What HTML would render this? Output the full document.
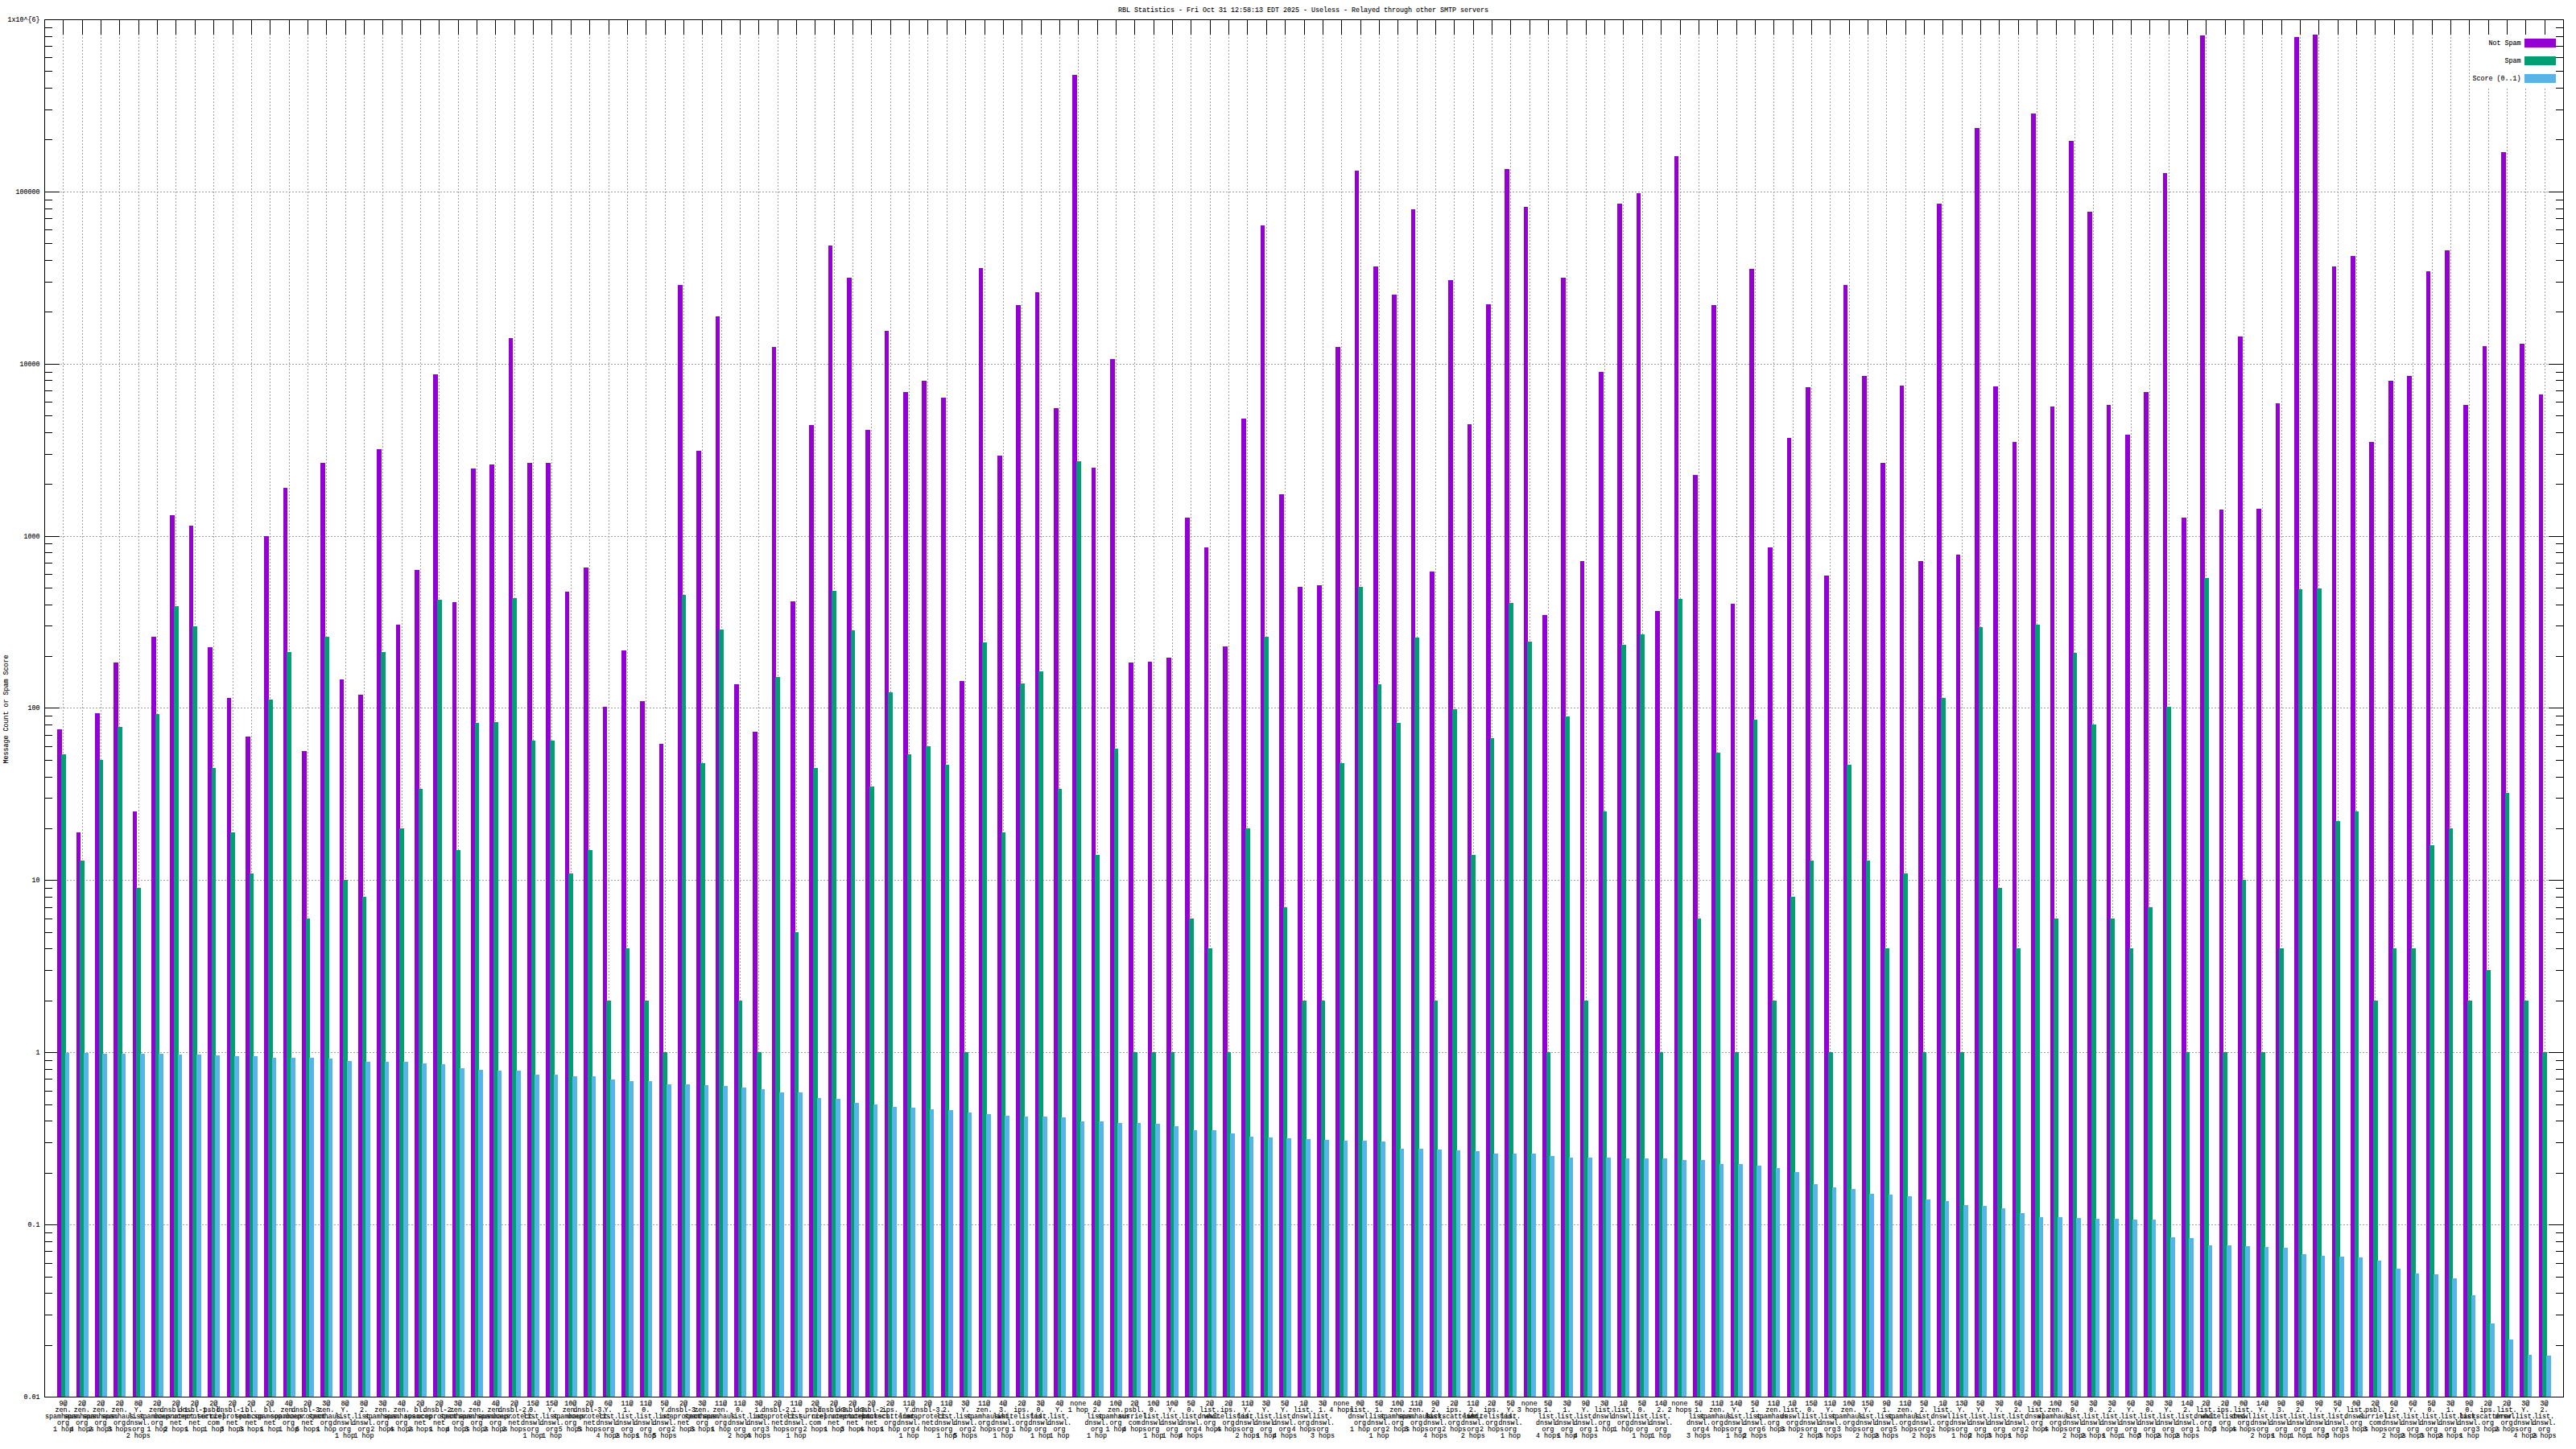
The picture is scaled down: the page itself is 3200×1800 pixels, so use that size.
<!DOCTYPE html>
<html><head><meta charset="utf-8"><title>RBL Statistics</title>
<style>html,body{margin:0;padding:0;background:#fff}svg{display:block}text{font-family:"Liberation Mono",monospace;font-size:8.33px;fill:#000;stroke:#000;stroke-width:0.1px}</style>
</head><body>
<svg width="3200" height="1800" viewBox="0 0 3200 1800">
<rect width="3200" height="1800" fill="#fff"/>
<g shape-rendering="crispEdges">
<g stroke="#a0a0a0" stroke-width="1" stroke-dasharray="2 2" fill="none">
<path d="M78.5 1736V25"/>
<path d="M102.5 1736V25"/>
<path d="M125.5 1736V25"/>
<path d="M148.5 1736V25"/>
<path d="M172.5 1736V25"/>
<path d="M195.5 1736V25"/>
<path d="M218.5 1736V25"/>
<path d="M242.5 1736V25"/>
<path d="M265.5 1736V25"/>
<path d="M289.5 1736V25"/>
<path d="M312.5 1736V25"/>
<path d="M335.5 1736V25"/>
<path d="M359.5 1736V25"/>
<path d="M382.5 1736V25"/>
<path d="M405.5 1736V25"/>
<path d="M429.5 1736V25"/>
<path d="M452.5 1736V25"/>
<path d="M475.5 1736V25"/>
<path d="M499.5 1736V25"/>
<path d="M522.5 1736V25"/>
<path d="M545.5 1736V25"/>
<path d="M569.5 1736V25"/>
<path d="M592.5 1736V25"/>
<path d="M615.5 1736V25"/>
<path d="M639.5 1736V25"/>
<path d="M662.5 1736V25"/>
<path d="M685.5 1736V25"/>
<path d="M709.5 1736V25"/>
<path d="M732.5 1736V25"/>
<path d="M756.5 1736V25"/>
<path d="M779.5 1736V25"/>
<path d="M802.5 1736V25"/>
<path d="M826.5 1736V25"/>
<path d="M849.5 1736V25"/>
<path d="M872.5 1736V25"/>
<path d="M896.5 1736V25"/>
<path d="M919.5 1736V25"/>
<path d="M942.5 1736V25"/>
<path d="M966.5 1736V25"/>
<path d="M989.5 1736V25"/>
<path d="M1012.5 1736V25"/>
<path d="M1036.5 1736V25"/>
<path d="M1059.5 1736V25"/>
<path d="M1082.5 1736V25"/>
<path d="M1106.5 1736V25"/>
<path d="M1129.5 1736V25"/>
<path d="M1152.5 1736V25"/>
<path d="M1176.5 1736V25"/>
<path d="M1199.5 1736V25"/>
<path d="M1223.5 1736V25"/>
<path d="M1246.5 1736V25"/>
<path d="M1269.5 1736V25"/>
<path d="M1293.5 1736V25"/>
<path d="M1316.5 1736V25"/>
<path d="M1339.5 1736V25"/>
<path d="M1363.5 1736V25"/>
<path d="M1386.5 1736V25"/>
<path d="M1409.5 1736V25"/>
<path d="M1433.5 1736V25"/>
<path d="M1456.5 1736V25"/>
<path d="M1479.5 1736V25"/>
<path d="M1503.5 1736V25"/>
<path d="M1526.5 1736V25"/>
<path d="M1549.5 1736V25"/>
<path d="M1573.5 1736V25"/>
<path d="M1596.5 1736V25"/>
<path d="M1620.5 1736V25"/>
<path d="M1643.5 1736V25"/>
<path d="M1666.5 1736V25"/>
<path d="M1690.5 1736V25"/>
<path d="M1713.5 1736V25"/>
<path d="M1736.5 1736V25"/>
<path d="M1760.5 1736V25"/>
<path d="M1783.5 1736V25"/>
<path d="M1806.5 1736V25"/>
<path d="M1830.5 1736V25"/>
<path d="M1853.5 1736V25"/>
<path d="M1876.5 1736V25"/>
<path d="M1900.5 1736V25"/>
<path d="M1923.5 1736V25"/>
<path d="M1946.5 1736V25"/>
<path d="M1970.5 1736V25"/>
<path d="M1993.5 1736V25"/>
<path d="M2016.5 1736V25"/>
<path d="M2040.5 1736V25"/>
<path d="M2063.5 1736V25"/>
<path d="M2087.5 1736V25"/>
<path d="M2110.5 1736V25"/>
<path d="M2133.5 1736V25"/>
<path d="M2157.5 1736V25"/>
<path d="M2180.5 1736V25"/>
<path d="M2203.5 1736V25"/>
<path d="M2227.5 1736V25"/>
<path d="M2250.5 1736V25"/>
<path d="M2273.5 1736V25"/>
<path d="M2297.5 1736V25"/>
<path d="M2320.5 1736V25"/>
<path d="M2343.5 1736V25"/>
<path d="M2367.5 1736V25"/>
<path d="M2390.5 1736V25"/>
<path d="M2413.5 1736V25"/>
<path d="M2437.5 1736V25"/>
<path d="M2460.5 1736V25"/>
<path d="M2483.5 1736V25"/>
<path d="M2507.5 1736V25"/>
<path d="M2530.5 1736V25"/>
<path d="M2554.5 1736V25"/>
<path d="M2577.5 1736V25"/>
<path d="M2600.5 1736V25"/>
<path d="M2624.5 1736V25"/>
<path d="M2647.5 1736V25"/>
<path d="M2670.5 1736V25"/>
<path d="M2694.5 1736V25"/>
<path d="M2717.5 1736V25"/>
<path d="M2740.5 1736V25"/>
<path d="M2764.5 1736V25"/>
<path d="M2787.5 1736V25"/>
<path d="M2810.5 1736V25"/>
<path d="M2834.5 1736V25"/>
<path d="M2857.5 1736V25"/>
<path d="M2880.5 1736V25"/>
<path d="M2904.5 1736V25"/>
<path d="M2927.5 1736V25"/>
<path d="M2950.5 1736V25"/>
<path d="M2974.5 1736V25"/>
<path d="M2997.5 1736V25"/>
<path d="M3021.5 1736V25"/>
<path d="M3044.5 1736V25"/>
<path d="M3067.5 1736V25"/>
<path d="M3091.5 1736V25"/>
<path d="M3114.5 1736V25"/>
<path d="M3137.5 1736V25"/>
<path d="M3161.5 1736V25"/>
<path d="M75 1521.5H3166"/>
<path d="M75 1307.5H3166"/>
<path d="M75 1093.5H3166"/>
<path d="M75 879.5H3166"/>
<path d="M75 666.5H3166"/>
<path d="M75 452.5H3166"/>
<path d="M75 238.5H3166"/>
</g>
<rect x="3069" y="43" width="115" height="67" fill="#fff"/>
<g stroke="#000" stroke-width="1" fill="none">
<path d="M78.5 25V43M78.5 1735V1717"/>
<path d="M102.5 25V43M102.5 1735V1717"/>
<path d="M125.5 25V43M125.5 1735V1717"/>
<path d="M148.5 25V43M148.5 1735V1717"/>
<path d="M172.5 25V43M172.5 1735V1717"/>
<path d="M195.5 25V43M195.5 1735V1717"/>
<path d="M218.5 25V43M218.5 1735V1717"/>
<path d="M242.5 25V43M242.5 1735V1717"/>
<path d="M265.5 25V43M265.5 1735V1717"/>
<path d="M289.5 25V43M289.5 1735V1717"/>
<path d="M312.5 25V43M312.5 1735V1717"/>
<path d="M335.5 25V43M335.5 1735V1717"/>
<path d="M359.5 25V43M359.5 1735V1717"/>
<path d="M382.5 25V43M382.5 1735V1717"/>
<path d="M405.5 25V43M405.5 1735V1717"/>
<path d="M429.5 25V43M429.5 1735V1717"/>
<path d="M452.5 25V43M452.5 1735V1717"/>
<path d="M475.5 25V43M475.5 1735V1717"/>
<path d="M499.5 25V43M499.5 1735V1717"/>
<path d="M522.5 25V43M522.5 1735V1717"/>
<path d="M545.5 25V43M545.5 1735V1717"/>
<path d="M569.5 25V43M569.5 1735V1717"/>
<path d="M592.5 25V43M592.5 1735V1717"/>
<path d="M615.5 25V43M615.5 1735V1717"/>
<path d="M639.5 25V43M639.5 1735V1717"/>
<path d="M662.5 25V43M662.5 1735V1717"/>
<path d="M685.5 25V43M685.5 1735V1717"/>
<path d="M709.5 25V43M709.5 1735V1717"/>
<path d="M732.5 25V43M732.5 1735V1717"/>
<path d="M756.5 25V43M756.5 1735V1717"/>
<path d="M779.5 25V43M779.5 1735V1717"/>
<path d="M802.5 25V43M802.5 1735V1717"/>
<path d="M826.5 25V43M826.5 1735V1717"/>
<path d="M849.5 25V43M849.5 1735V1717"/>
<path d="M872.5 25V43M872.5 1735V1717"/>
<path d="M896.5 25V43M896.5 1735V1717"/>
<path d="M919.5 25V43M919.5 1735V1717"/>
<path d="M942.5 25V43M942.5 1735V1717"/>
<path d="M966.5 25V43M966.5 1735V1717"/>
<path d="M989.5 25V43M989.5 1735V1717"/>
<path d="M1012.5 25V43M1012.5 1735V1717"/>
<path d="M1036.5 25V43M1036.5 1735V1717"/>
<path d="M1059.5 25V43M1059.5 1735V1717"/>
<path d="M1082.5 25V43M1082.5 1735V1717"/>
<path d="M1106.5 25V43M1106.5 1735V1717"/>
<path d="M1129.5 25V43M1129.5 1735V1717"/>
<path d="M1152.5 25V43M1152.5 1735V1717"/>
<path d="M1176.5 25V43M1176.5 1735V1717"/>
<path d="M1199.5 25V43M1199.5 1735V1717"/>
<path d="M1223.5 25V43M1223.5 1735V1717"/>
<path d="M1246.5 25V43M1246.5 1735V1717"/>
<path d="M1269.5 25V43M1269.5 1735V1717"/>
<path d="M1293.5 25V43M1293.5 1735V1717"/>
<path d="M1316.5 25V43M1316.5 1735V1717"/>
<path d="M1339.5 25V43M1339.5 1735V1717"/>
<path d="M1363.5 25V43M1363.5 1735V1717"/>
<path d="M1386.5 25V43M1386.5 1735V1717"/>
<path d="M1409.5 25V43M1409.5 1735V1717"/>
<path d="M1433.5 25V43M1433.5 1735V1717"/>
<path d="M1456.5 25V43M1456.5 1735V1717"/>
<path d="M1479.5 25V43M1479.5 1735V1717"/>
<path d="M1503.5 25V43M1503.5 1735V1717"/>
<path d="M1526.5 25V43M1526.5 1735V1717"/>
<path d="M1549.5 25V43M1549.5 1735V1717"/>
<path d="M1573.5 25V43M1573.5 1735V1717"/>
<path d="M1596.5 25V43M1596.5 1735V1717"/>
<path d="M1620.5 25V43M1620.5 1735V1717"/>
<path d="M1643.5 25V43M1643.5 1735V1717"/>
<path d="M1666.5 25V43M1666.5 1735V1717"/>
<path d="M1690.5 25V43M1690.5 1735V1717"/>
<path d="M1713.5 25V43M1713.5 1735V1717"/>
<path d="M1736.5 25V43M1736.5 1735V1717"/>
<path d="M1760.5 25V43M1760.5 1735V1717"/>
<path d="M1783.5 25V43M1783.5 1735V1717"/>
<path d="M1806.5 25V43M1806.5 1735V1717"/>
<path d="M1830.5 25V43M1830.5 1735V1717"/>
<path d="M1853.5 25V43M1853.5 1735V1717"/>
<path d="M1876.5 25V43M1876.5 1735V1717"/>
<path d="M1900.5 25V43M1900.5 1735V1717"/>
<path d="M1923.5 25V43M1923.5 1735V1717"/>
<path d="M1946.5 25V43M1946.5 1735V1717"/>
<path d="M1970.5 25V43M1970.5 1735V1717"/>
<path d="M1993.5 25V43M1993.5 1735V1717"/>
<path d="M2016.5 25V43M2016.5 1735V1717"/>
<path d="M2040.5 25V43M2040.5 1735V1717"/>
<path d="M2063.5 25V43M2063.5 1735V1717"/>
<path d="M2087.5 25V43M2087.5 1735V1717"/>
<path d="M2110.5 25V43M2110.5 1735V1717"/>
<path d="M2133.5 25V43M2133.5 1735V1717"/>
<path d="M2157.5 25V43M2157.5 1735V1717"/>
<path d="M2180.5 25V43M2180.5 1735V1717"/>
<path d="M2203.5 25V43M2203.5 1735V1717"/>
<path d="M2227.5 25V43M2227.5 1735V1717"/>
<path d="M2250.5 25V43M2250.5 1735V1717"/>
<path d="M2273.5 25V43M2273.5 1735V1717"/>
<path d="M2297.5 25V43M2297.5 1735V1717"/>
<path d="M2320.5 25V43M2320.5 1735V1717"/>
<path d="M2343.5 25V43M2343.5 1735V1717"/>
<path d="M2367.5 25V43M2367.5 1735V1717"/>
<path d="M2390.5 25V43M2390.5 1735V1717"/>
<path d="M2413.5 25V43M2413.5 1735V1717"/>
<path d="M2437.5 25V43M2437.5 1735V1717"/>
<path d="M2460.5 25V43M2460.5 1735V1717"/>
<path d="M2483.5 25V43M2483.5 1735V1717"/>
<path d="M2507.5 25V43M2507.5 1735V1717"/>
<path d="M2530.5 25V43M2530.5 1735V1717"/>
<path d="M2554.5 25V43M2554.5 1735V1717"/>
<path d="M2577.5 25V43M2577.5 1735V1717"/>
<path d="M2600.5 25V43M2600.5 1735V1717"/>
<path d="M2624.5 25V43M2624.5 1735V1717"/>
<path d="M2647.5 25V43M2647.5 1735V1717"/>
<path d="M2670.5 25V43M2670.5 1735V1717"/>
<path d="M2694.5 25V43M2694.5 1735V1717"/>
<path d="M2717.5 25V43M2717.5 1735V1717"/>
<path d="M2740.5 25V43M2740.5 1735V1717"/>
<path d="M2764.5 25V43M2764.5 1735V1717"/>
<path d="M2787.5 25V43M2787.5 1735V1717"/>
<path d="M2810.5 25V43M2810.5 1735V1717"/>
<path d="M2834.5 25V43M2834.5 1735V1717"/>
<path d="M2857.5 25V43M2857.5 1735V1717"/>
<path d="M2880.5 25V43M2880.5 1735V1717"/>
<path d="M2904.5 25V43M2904.5 1735V1717"/>
<path d="M2927.5 25V43M2927.5 1735V1717"/>
<path d="M2950.5 25V43M2950.5 1735V1717"/>
<path d="M2974.5 25V43M2974.5 1735V1717"/>
<path d="M2997.5 25V43M2997.5 1735V1717"/>
<path d="M3021.5 25V43M3021.5 1735V1717"/>
<path d="M3044.5 25V43M3044.5 1735V1717"/>
<path d="M3067.5 25V43M3067.5 1735V1717"/>
<path d="M3091.5 25V43M3091.5 1735V1717"/>
<path d="M3114.5 25V43M3114.5 1735V1717"/>
<path d="M3137.5 25V43M3137.5 1735V1717"/>
<path d="M3161.5 25V43M3161.5 1735V1717"/>
<path d="M56 1671.5H65M3184 1671.5H3175"/>
<path d="M56 1633.5H65M3184 1633.5H3175"/>
<path d="M56 1606.5H65M3184 1606.5H3175"/>
<path d="M56 1586.5H65M3184 1586.5H3175"/>
<path d="M56 1569.5H65M3184 1569.5H3175"/>
<path d="M56 1554.5H65M3184 1554.5H3175"/>
<path d="M56 1542.5H65M3184 1542.5H3175"/>
<path d="M56 1531.5H65M3184 1531.5H3175"/>
<path d="M56 1521.5H74M3184 1521.5H3166"/>
<path d="M56 1457.5H65M3184 1457.5H3175"/>
<path d="M56 1419.5H65M3184 1419.5H3175"/>
<path d="M56 1392.5H65M3184 1392.5H3175"/>
<path d="M56 1372.5H65M3184 1372.5H3175"/>
<path d="M56 1355.5H65M3184 1355.5H3175"/>
<path d="M56 1340.5H65M3184 1340.5H3175"/>
<path d="M56 1328.5H65M3184 1328.5H3175"/>
<path d="M56 1317.5H65M3184 1317.5H3175"/>
<path d="M56 1307.5H74M3184 1307.5H3166"/>
<path d="M56 1243.5H65M3184 1243.5H3175"/>
<path d="M56 1205.5H65M3184 1205.5H3175"/>
<path d="M56 1178.5H65M3184 1178.5H3175"/>
<path d="M56 1158.5H65M3184 1158.5H3175"/>
<path d="M56 1141.5H65M3184 1141.5H3175"/>
<path d="M56 1127.5H65M3184 1127.5H3175"/>
<path d="M56 1114.5H65M3184 1114.5H3175"/>
<path d="M56 1103.5H65M3184 1103.5H3175"/>
<path d="M56 1093.5H74M3184 1093.5H3166"/>
<path d="M56 1029.5H65M3184 1029.5H3175"/>
<path d="M56 991.5H65M3184 991.5H3175"/>
<path d="M56 965.5H65M3184 965.5H3175"/>
<path d="M56 944.5H65M3184 944.5H3175"/>
<path d="M56 927.5H65M3184 927.5H3175"/>
<path d="M56 913.5H65M3184 913.5H3175"/>
<path d="M56 900.5H65M3184 900.5H3175"/>
<path d="M56 889.5H65M3184 889.5H3175"/>
<path d="M56 879.5H74M3184 879.5H3166"/>
<path d="M56 815.5H65M3184 815.5H3175"/>
<path d="M56 777.5H65M3184 777.5H3175"/>
<path d="M56 751.5H65M3184 751.5H3175"/>
<path d="M56 730.5H65M3184 730.5H3175"/>
<path d="M56 713.5H65M3184 713.5H3175"/>
<path d="M56 699.5H65M3184 699.5H3175"/>
<path d="M56 686.5H65M3184 686.5H3175"/>
<path d="M56 675.5H65M3184 675.5H3175"/>
<path d="M56 666.5H74M3184 666.5H3166"/>
<path d="M56 601.5H65M3184 601.5H3175"/>
<path d="M56 564.5H65M3184 564.5H3175"/>
<path d="M56 537.5H65M3184 537.5H3175"/>
<path d="M56 516.5H65M3184 516.5H3175"/>
<path d="M56 499.5H65M3184 499.5H3175"/>
<path d="M56 485.5H65M3184 485.5H3175"/>
<path d="M56 472.5H65M3184 472.5H3175"/>
<path d="M56 462.5H65M3184 462.5H3175"/>
<path d="M56 452.5H74M3184 452.5H3166"/>
<path d="M56 387.5H65M3184 387.5H3175"/>
<path d="M56 350.5H65M3184 350.5H3175"/>
<path d="M56 323.5H65M3184 323.5H3175"/>
<path d="M56 302.5H65M3184 302.5H3175"/>
<path d="M56 285.5H65M3184 285.5H3175"/>
<path d="M56 271.5H65M3184 271.5H3175"/>
<path d="M56 259.5H65M3184 259.5H3175"/>
<path d="M56 248.5H65M3184 248.5H3175"/>
<path d="M56 238.5H74M3184 238.5H3166"/>
<path d="M56 173.5H65M3184 173.5H3175"/>
<path d="M56 136.5H65M3184 136.5H3175"/>
<path d="M56 109.5H65M3184 109.5H3175"/>
<path d="M56 88.5H65M3184 88.5H3175"/>
<path d="M56 71.5H65M3184 71.5H3175"/>
<path d="M56 57.5H65M3184 57.5H3175"/>
<path d="M56 45.5H65M3184 45.5H3175"/>
<path d="M56 34.5H65M3184 34.5H3175"/>
</g>
<path fill="#9400d3" d="M71 906h6V1735h-6zM95 1034h5V1735h-5zM118 886h6V1735h-6zM141 823h6V1735h-6zM165 1008h5V1735h-5zM188 791h6V1735h-6zM211 640h6V1735h-6zM235 653h5V1735h-5zM258 804h6V1735h-6zM282 867h5V1735h-5zM305 915h6V1735h-6zM328 666h6V1735h-6zM352 606h5V1735h-5zM375 933h6V1735h-6zM398 575h6V1735h-6zM422 844h5V1735h-5zM445 863h6V1735h-6zM468 558h6V1735h-6zM492 776h5V1735h-5zM515 708h6V1735h-6zM538 465h6V1735h-6zM562 748h5V1735h-5zM585 582h6V1735h-6zM608 577h6V1735h-6zM632 420h5V1735h-5zM655 575h6V1735h-6zM678 575h6V1735h-6zM702 735h5V1735h-5zM725 705h6V1735h-6zM749 878h5V1735h-5zM772 808h6V1735h-6zM795 871h6V1735h-6zM819 924h5V1735h-5zM842 354h6V1735h-6zM865 560h6V1735h-6zM889 393h5V1735h-5zM912 850h6V1735h-6zM935 909h6V1735h-6zM959 431h5V1735h-5zM982 747h6V1735h-6zM1005 528h6V1735h-6zM1029 305h5V1735h-5zM1052 345h6V1735h-6zM1075 534h6V1735h-6zM1099 411h5V1735h-5zM1122 487h6V1735h-6zM1145 473h6V1735h-6zM1169 494h6V1735h-6zM1192 846h6V1735h-6zM1216 333h5V1735h-5zM1239 566h6V1735h-6zM1262 379h6V1735h-6zM1286 363h5V1735h-5zM1309 507h6V1735h-6zM1332 93h6V1735h-6zM1356 581h5V1735h-5zM1379 446h6V1735h-6zM1402 823h6V1735h-6zM1426 822h5V1735h-5zM1449 817h6V1735h-6zM1472 643h6V1735h-6zM1496 680h5V1735h-5zM1519 803h6V1735h-6zM1542 520h6V1735h-6zM1566 280h5V1735h-5zM1589 614h6V1735h-6zM1612 729h6V1735h-6zM1636 727h6V1735h-6zM1659 431h6V1735h-6zM1683 212h5V1735h-5zM1706 331h6V1735h-6zM1729 366h6V1735h-6zM1753 260h5V1735h-5zM1776 710h6V1735h-6zM1799 348h6V1735h-6zM1823 527h5V1735h-5zM1846 378h6V1735h-6zM1869 210h6V1735h-6zM1893 257h5V1735h-5zM1916 764h6V1735h-6zM1939 345h6V1735h-6zM1963 697h5V1735h-5zM1986 462h6V1735h-6zM2009 253h6V1735h-6zM2033 240h5V1735h-5zM2056 759h6V1735h-6zM2080 194h5V1735h-5zM2103 590h6V1735h-6zM2126 379h6V1735h-6zM2150 750h5V1735h-5zM2173 334h6V1735h-6zM2196 680h6V1735h-6zM2220 544h5V1735h-5zM2243 481h6V1735h-6zM2266 715h6V1735h-6zM2290 354h5V1735h-5zM2313 467h6V1735h-6zM2336 575h6V1735h-6zM2360 479h5V1735h-5zM2383 697h6V1735h-6zM2406 253h6V1735h-6zM2430 689h5V1735h-5zM2453 159h6V1735h-6zM2476 480h6V1735h-6zM2500 549h5V1735h-5zM2523 141h6V1735h-6zM2547 505h5V1735h-5zM2570 175h6V1735h-6zM2593 263h6V1735h-6zM2617 503h5V1735h-5zM2640 540h6V1735h-6zM2663 487h6V1735h-6zM2687 215h5V1735h-5zM2710 643h6V1735h-6zM2733 44h6V1735h-6zM2757 633h5V1735h-5zM2780 418h6V1735h-6zM2803 632h6V1735h-6zM2827 501h5V1735h-5zM2850 46h6V1735h-6zM2873 43h6V1735h-6zM2897 331h5V1735h-5zM2920 318h6V1735h-6zM2943 549h6V1735h-6zM2967 473h6V1735h-6zM2990 467h6V1735h-6zM3014 337h5V1735h-5zM3037 311h6V1735h-6zM3060 503h6V1735h-6zM3084 430h5V1735h-5zM3107 189h6V1735h-6zM3130 427h6V1735h-6zM3154 490h5V1735h-5z"/>
<path fill="#009e73" d="M76 937h6V1735h-6zM99 1069h6V1735h-6zM123 944h5V1735h-5zM146 903h6V1735h-6zM169 1103h6V1735h-6zM193 887h5V1735h-5zM216 753h6V1735h-6zM239 778h6V1735h-6zM263 954h5V1735h-5zM286 1034h6V1735h-6zM310 1085h5V1735h-5zM333 869h6V1735h-6zM356 810h6V1735h-6zM380 1141h5V1735h-5zM403 791h6V1735h-6zM426 1093h6V1735h-6zM450 1114h5V1735h-5zM473 810h6V1735h-6zM496 1029h6V1735h-6zM520 980h5V1735h-5zM543 745h6V1735h-6zM566 1056h6V1735h-6zM590 898h5V1735h-5zM613 897h6V1735h-6zM636 743h6V1735h-6zM660 920h5V1735h-5zM683 920h6V1735h-6zM706 1085h6V1735h-6zM730 1056h6V1735h-6zM753 1243h6V1735h-6zM777 1178h5V1735h-5zM800 1243h6V1735h-6zM823 1307h6V1735h-6zM847 739h5V1735h-5zM870 948h6V1735h-6zM893 782h6V1735h-6zM917 1243h5V1735h-5zM940 1307h6V1735h-6zM963 841h6V1735h-6zM987 1158h5V1735h-5zM1010 954h6V1735h-6zM1033 734h6V1735h-6zM1057 783h5V1735h-5zM1080 977h6V1735h-6zM1103 860h6V1735h-6zM1127 937h5V1735h-5zM1150 927h6V1735h-6zM1174 950h5V1735h-5zM1197 1307h6V1735h-6zM1220 798h6V1735h-6zM1244 1034h5V1735h-5zM1267 849h6V1735h-6zM1290 834h6V1735h-6zM1314 980h5V1735h-5zM1337 573h6V1735h-6zM1360 1062h6V1735h-6zM1384 930h5V1735h-5zM1407 1307h6V1735h-6zM1430 1307h6V1735h-6zM1454 1307h5V1735h-5zM1477 1141h6V1735h-6zM1500 1178h6V1735h-6zM1524 1307h5V1735h-5zM1547 1029h6V1735h-6zM1570 791h6V1735h-6zM1594 1127h5V1735h-5zM1617 1243h6V1735h-6zM1641 1243h5V1735h-5zM1664 948h6V1735h-6zM1687 729h6V1735h-6zM1711 850h5V1735h-5zM1734 898h6V1735h-6zM1757 792h6V1735h-6zM1781 1243h5V1735h-5zM1804 881h6V1735h-6zM1827 1062h6V1735h-6zM1851 917h5V1735h-5zM1874 749h6V1735h-6zM1897 797h6V1735h-6zM1921 1307h5V1735h-5zM1944 890h6V1735h-6zM1967 1243h6V1735h-6zM1991 1008h5V1735h-5zM2014 801h6V1735h-6zM2037 788h6V1735h-6zM2061 1307h5V1735h-5zM2084 744h6V1735h-6zM2108 1141h5V1735h-5zM2131 935h6V1735h-6zM2154 1307h6V1735h-6zM2178 894h5V1735h-5zM2201 1243h6V1735h-6zM2224 1114h6V1735h-6zM2248 1069h5V1735h-5zM2271 1307h6V1735h-6zM2294 950h6V1735h-6zM2318 1069h5V1735h-5zM2341 1178h6V1735h-6zM2364 1085h6V1735h-6zM2388 1307h5V1735h-5zM2411 867h6V1735h-6zM2434 1307h6V1735h-6zM2458 779h5V1735h-5zM2481 1103h6V1735h-6zM2504 1178h6V1735h-6zM2528 776h6V1735h-6zM2551 1141h6V1735h-6zM2575 811h5V1735h-5zM2598 900h6V1735h-6zM2621 1141h6V1735h-6zM2645 1178h5V1735h-5zM2668 1127h6V1735h-6zM2691 878h6V1735h-6zM2715 1307h5V1735h-5zM2738 718h6V1735h-6zM2761 1307h6V1735h-6zM2785 1093h5V1735h-5zM2808 1307h6V1735h-6zM2831 1178h6V1735h-6zM2855 732h5V1735h-5zM2878 731h6V1735h-6zM2901 1020h6V1735h-6zM2925 1008h5V1735h-5zM2948 1243h6V1735h-6zM2972 1178h5V1735h-5zM2995 1178h6V1735h-6zM3018 1050h6V1735h-6zM3042 1029h5V1735h-5zM3065 1243h6V1735h-6zM3088 1205h6V1735h-6zM3112 985h5V1735h-5zM3135 1243h6V1735h-6zM3158 1307h6V1735h-6z"/>
<path fill="#56b4e9" d="M81 1308h5V1735h-5zM104 1308h6V1735h-6zM127 1309h6V1735h-6zM151 1309h5V1735h-5zM174 1309h6V1735h-6zM197 1309h6V1735h-6zM221 1310h5V1735h-5zM244 1310h6V1735h-6zM267 1311h6V1735h-6zM291 1312h6V1735h-6zM314 1312h6V1735h-6zM338 1314h5V1735h-5zM361 1314h6V1735h-6zM384 1314h6V1735h-6zM408 1315h5V1735h-5zM431 1318h6V1735h-6zM454 1319h6V1735h-6zM478 1319h5V1735h-5zM501 1319h6V1735h-6zM524 1321h6V1735h-6zM548 1322h5V1735h-5zM571 1327h6V1735h-6zM594 1329h6V1735h-6zM618 1330h5V1735h-5zM641 1330h6V1735h-6zM664 1335h6V1735h-6zM688 1335h5V1735h-5zM711 1337h6V1735h-6zM735 1337h5V1735h-5zM758 1341h6V1735h-6zM781 1343h6V1735h-6zM805 1343h5V1735h-5zM828 1347h6V1735h-6zM851 1347h6V1735h-6zM875 1348h5V1735h-5zM898 1349h6V1735h-6zM921 1351h6V1735h-6zM945 1353h5V1735h-5zM968 1357h6V1735h-6zM991 1357h6V1735h-6zM1015 1364h5V1735h-5zM1038 1365h6V1735h-6zM1061 1370h6V1735h-6zM1085 1372h5V1735h-5zM1108 1375h6V1735h-6zM1131 1376h6V1735h-6zM1155 1378h5V1735h-5zM1178 1379h6V1735h-6zM1202 1382h5V1735h-5zM1225 1384h6V1735h-6zM1248 1386h6V1735h-6zM1272 1387h5V1735h-5zM1295 1387h6V1735h-6zM1318 1388h6V1735h-6zM1342 1393h5V1735h-5zM1365 1393h6V1735h-6zM1388 1395h6V1735h-6zM1412 1395h5V1735h-5zM1435 1396h6V1735h-6zM1458 1399h6V1735h-6zM1482 1404h5V1735h-5zM1505 1404h6V1735h-6zM1528 1408h6V1735h-6zM1552 1412h5V1735h-5zM1575 1413h6V1735h-6zM1598 1414h6V1735h-6zM1622 1415h6V1735h-6zM1645 1416h6V1735h-6zM1669 1417h5V1735h-5zM1692 1417h6V1735h-6zM1715 1418h6V1735h-6zM1739 1427h5V1735h-5zM1762 1427h6V1735h-6zM1785 1428h6V1735h-6zM1809 1429h5V1735h-5zM1832 1430h6V1735h-6zM1855 1433h6V1735h-6zM1879 1433h5V1735h-5zM1902 1433h6V1735h-6zM1925 1436h6V1735h-6zM1949 1438h5V1735h-5zM1972 1438h6V1735h-6zM1995 1438h6V1735h-6zM2019 1439h5V1735h-5zM2042 1439h6V1735h-6zM2065 1439h6V1735h-6zM2089 1441h6V1735h-6zM2112 1441h6V1735h-6zM2136 1446h5V1735h-5zM2159 1446h6V1735h-6zM2182 1448h6V1735h-6zM2206 1451h5V1735h-5zM2229 1456h6V1735h-6zM2252 1471h6V1735h-6zM2276 1475h5V1735h-5zM2299 1477h6V1735h-6zM2322 1483h6V1735h-6zM2346 1484h5V1735h-5zM2369 1486h6V1735h-6zM2392 1490h6V1735h-6zM2416 1492h5V1735h-5zM2439 1497h6V1735h-6zM2462 1498h6V1735h-6zM2486 1501h5V1735h-5zM2509 1507h6V1735h-6zM2533 1512h5V1735h-5zM2556 1512h6V1735h-6zM2579 1513h6V1735h-6zM2603 1514h5V1735h-5zM2626 1514h6V1735h-6zM2649 1515h6V1735h-6zM2673 1515h5V1735h-5zM2696 1537h6V1735h-6zM2719 1538h6V1735h-6zM2743 1547h5V1735h-5zM2766 1547h6V1735h-6zM2789 1548h6V1735h-6zM2813 1549h5V1735h-5zM2836 1550h6V1735h-6zM2859 1558h6V1735h-6zM2883 1560h5V1735h-5zM2906 1561h6V1735h-6zM2929 1562h6V1735h-6zM2953 1566h5V1735h-5zM2976 1576h6V1735h-6zM3000 1582h5V1735h-5zM3023 1583h6V1735h-6zM3046 1588h6V1735h-6zM3070 1609h5V1735h-5zM3093 1644h6V1735h-6zM3116 1664h6V1735h-6zM3140 1683h5V1735h-5zM3163 1684h6V1735h-6z"/>
<rect x="55.5" y="24.5" width="3129" height="1711" fill="none" stroke="#000" stroke-width="1"/>
<rect x="3136" y="48" width="39" height="11" fill="#9400d3"/>
<rect x="3136" y="70" width="39" height="11" fill="#009e73"/>
<rect x="3136" y="92" width="39" height="11" fill="#56b4e9"/>
</g>
<g>
<text x="1619" y="15" text-anchor="middle">RBL Statistics - Fri Oct 31 12:58:13 EDT 2025 - Useless - Relayed through other SMTP servers</text>
<text transform="translate(10 881) rotate(-90)" text-anchor="middle">Message Count or Spam Score</text>
<text x="49.5" y="27.1" text-anchor="end">1x10^{6}</text>
<text x="49.5" y="241.1" text-anchor="end">100000</text>
<text x="49.5" y="455.1" text-anchor="end">10000</text>
<text x="49.5" y="669.1" text-anchor="end">1000</text>
<text x="49.5" y="882.1" text-anchor="end">100</text>
<text x="49.5" y="1096.1" text-anchor="end">10</text>
<text x="49.5" y="1310.1" text-anchor="end">1</text>
<text x="49.5" y="1524.1" text-anchor="end">0.1</text>
<text x="49.5" y="1738.1" text-anchor="end">0.01</text>
<text x="3131.5" y="56" text-anchor="end">Not Spam</text>
<text x="3131.5" y="78" text-anchor="end">Spam</text>
<text x="3131.5" y="100" text-anchor="end">Score (0..1)</text>
<g text-anchor="middle">
<text><tspan x="78.4" y="1746.0">9@</tspan><tspan x="78.4" y="1754.1">zen.</tspan><tspan x="78.4" y="1762.2">spamhaus.</tspan><tspan x="78.4" y="1770.2">org</tspan><tspan x="78.4" y="1778.3">1 hop</tspan></text>
<text><tspan x="101.7" y="1746.0">2@</tspan><tspan x="101.7" y="1754.1">zen.</tspan><tspan x="101.7" y="1762.2">spamhaus.</tspan><tspan x="101.7" y="1770.2">org</tspan><tspan x="101.7" y="1778.3">4 hops</tspan></text>
<text><tspan x="125.1" y="1746.0">2@</tspan><tspan x="125.1" y="1754.1">zen.</tspan><tspan x="125.1" y="1762.2">spamhaus.</tspan><tspan x="125.1" y="1770.2">org</tspan><tspan x="125.1" y="1778.3">2 hops</tspan></text>
<text><tspan x="148.4" y="1746.0">2@</tspan><tspan x="148.4" y="1754.1">zen.</tspan><tspan x="148.4" y="1762.2">spamhaus.</tspan><tspan x="148.4" y="1770.2">org</tspan><tspan x="148.4" y="1778.3">3 hops</tspan></text>
<text><tspan x="171.8" y="1746.0">8@</tspan><tspan x="171.8" y="1754.1">Y.</tspan><tspan x="171.8" y="1762.2">list.</tspan><tspan x="171.8" y="1770.2">dnswl.</tspan><tspan x="171.8" y="1778.3">org</tspan><tspan x="171.8" y="1786.4">2 hops</tspan></text>
<text><tspan x="195.1" y="1746.0">2@</tspan><tspan x="195.1" y="1754.1">zen.</tspan><tspan x="195.1" y="1762.2">spamhaus.</tspan><tspan x="195.1" y="1770.2">org</tspan><tspan x="195.1" y="1778.3">1 hop</tspan></text>
<text><tspan x="218.5" y="1746.0">2@</tspan><tspan x="218.5" y="1754.1">dnsbl-1.</tspan><tspan x="218.5" y="1762.2">uceprotect.</tspan><tspan x="218.5" y="1770.2">net</tspan><tspan x="218.5" y="1778.3">2 hops</tspan></text>
<text><tspan x="241.8" y="1746.0">2@</tspan><tspan x="241.8" y="1754.1">dnsbl-1.</tspan><tspan x="241.8" y="1762.2">uceprotect.</tspan><tspan x="241.8" y="1770.2">net</tspan><tspan x="241.8" y="1778.3">1 hop</tspan></text>
<text><tspan x="265.2" y="1746.0">2@</tspan><tspan x="265.2" y="1754.1">psbl.</tspan><tspan x="265.2" y="1762.2">surriel.</tspan><tspan x="265.2" y="1770.2">com</tspan><tspan x="265.2" y="1778.3">1 hop</tspan></text>
<text><tspan x="288.5" y="1746.0">2@</tspan><tspan x="288.5" y="1754.1">dnsbl-1.</tspan><tspan x="288.5" y="1762.2">uceprotect.</tspan><tspan x="288.5" y="1770.2">net</tspan><tspan x="288.5" y="1778.3">3 hops</tspan></text>
<text><tspan x="311.9" y="1746.0">2@</tspan><tspan x="311.9" y="1754.1">bl.</tspan><tspan x="311.9" y="1762.2">spamcop.</tspan><tspan x="311.9" y="1770.2">net</tspan><tspan x="311.9" y="1778.3">3 hops</tspan></text>
<text><tspan x="335.2" y="1746.0">2@</tspan><tspan x="335.2" y="1754.1">bl.</tspan><tspan x="335.2" y="1762.2">spamcop.</tspan><tspan x="335.2" y="1770.2">net</tspan><tspan x="335.2" y="1778.3">1 hop</tspan></text>
<text><tspan x="358.6" y="1746.0">4@</tspan><tspan x="358.6" y="1754.1">zen.</tspan><tspan x="358.6" y="1762.2">spamhaus.</tspan><tspan x="358.6" y="1770.2">org</tspan><tspan x="358.6" y="1778.3">1 hop</tspan></text>
<text><tspan x="381.9" y="1746.0">2@</tspan><tspan x="381.9" y="1754.1">dnsbl-3.</tspan><tspan x="381.9" y="1762.2">uceprotect.</tspan><tspan x="381.9" y="1770.2">net</tspan><tspan x="381.9" y="1778.3">6 hops</tspan></text>
<text><tspan x="405.3" y="1746.0">3@</tspan><tspan x="405.3" y="1754.1">zen.</tspan><tspan x="405.3" y="1762.2">spamhaus.</tspan><tspan x="405.3" y="1770.2">org</tspan><tspan x="405.3" y="1778.3">1 hop</tspan></text>
<text><tspan x="428.6" y="1746.0">8@</tspan><tspan x="428.6" y="1754.1">Y.</tspan><tspan x="428.6" y="1762.2">list.</tspan><tspan x="428.6" y="1770.2">dnswl.</tspan><tspan x="428.6" y="1778.3">org</tspan><tspan x="428.6" y="1786.4">1 hop</tspan></text>
<text><tspan x="452.0" y="1746.0">8@</tspan><tspan x="452.0" y="1754.1">2.</tspan><tspan x="452.0" y="1762.2">list.</tspan><tspan x="452.0" y="1770.2">dnswl.</tspan><tspan x="452.0" y="1778.3">org</tspan><tspan x="452.0" y="1786.4">1 hop</tspan></text>
<text><tspan x="475.3" y="1746.0">3@</tspan><tspan x="475.3" y="1754.1">zen.</tspan><tspan x="475.3" y="1762.2">spamhaus.</tspan><tspan x="475.3" y="1770.2">org</tspan><tspan x="475.3" y="1778.3">2 hops</tspan></text>
<text><tspan x="498.7" y="1746.0">4@</tspan><tspan x="498.7" y="1754.1">zen.</tspan><tspan x="498.7" y="1762.2">spamhaus.</tspan><tspan x="498.7" y="1770.2">org</tspan><tspan x="498.7" y="1778.3">4 hops</tspan></text>
<text><tspan x="522.0" y="1746.0">2@</tspan><tspan x="522.0" y="1754.1">bl.</tspan><tspan x="522.0" y="1762.2">spamcop.</tspan><tspan x="522.0" y="1770.2">net</tspan><tspan x="522.0" y="1778.3">2 hops</tspan></text>
<text><tspan x="545.4" y="1746.0">2@</tspan><tspan x="545.4" y="1754.1">dnsbl-2.</tspan><tspan x="545.4" y="1762.2">uceprotect.</tspan><tspan x="545.4" y="1770.2">net</tspan><tspan x="545.4" y="1778.3">1 hop</tspan></text>
<text><tspan x="568.7" y="1746.0">3@</tspan><tspan x="568.7" y="1754.1">zen.</tspan><tspan x="568.7" y="1762.2">spamhaus.</tspan><tspan x="568.7" y="1770.2">org</tspan><tspan x="568.7" y="1778.3">4 hops</tspan></text>
<text><tspan x="592.1" y="1746.0">4@</tspan><tspan x="592.1" y="1754.1">zen.</tspan><tspan x="592.1" y="1762.2">spamhaus.</tspan><tspan x="592.1" y="1770.2">org</tspan><tspan x="592.1" y="1778.3">3 hops</tspan></text>
<text><tspan x="615.4" y="1746.0">4@</tspan><tspan x="615.4" y="1754.1">zen.</tspan><tspan x="615.4" y="1762.2">spamhaus.</tspan><tspan x="615.4" y="1770.2">org</tspan><tspan x="615.4" y="1778.3">2 hops</tspan></text>
<text><tspan x="638.8" y="1746.0">2@</tspan><tspan x="638.8" y="1754.1">dnsbl-2.</tspan><tspan x="638.8" y="1762.2">uceprotect.</tspan><tspan x="638.8" y="1770.2">net</tspan><tspan x="638.8" y="1778.3">2 hops</tspan></text>
<text><tspan x="662.1" y="1746.0">15@</tspan><tspan x="662.1" y="1754.1">0.</tspan><tspan x="662.1" y="1762.2">list.</tspan><tspan x="662.1" y="1770.2">dnswl.</tspan><tspan x="662.1" y="1778.3">org</tspan><tspan x="662.1" y="1786.4">1 hop</tspan></text>
<text><tspan x="685.5" y="1746.0">15@</tspan><tspan x="685.5" y="1754.1">Y.</tspan><tspan x="685.5" y="1762.2">list.</tspan><tspan x="685.5" y="1770.2">dnswl.</tspan><tspan x="685.5" y="1778.3">org</tspan><tspan x="685.5" y="1786.4">1 hop</tspan></text>
<text><tspan x="708.8" y="1746.0">10@</tspan><tspan x="708.8" y="1754.1">zen.</tspan><tspan x="708.8" y="1762.2">spamhaus.</tspan><tspan x="708.8" y="1770.2">org</tspan><tspan x="708.8" y="1778.3">5 hops</tspan></text>
<text><tspan x="732.2" y="1746.0">2@</tspan><tspan x="732.2" y="1754.1">dnsbl-3.</tspan><tspan x="732.2" y="1762.2">uceprotect.</tspan><tspan x="732.2" y="1770.2">net</tspan><tspan x="732.2" y="1778.3">5 hops</tspan></text>
<text><tspan x="755.5" y="1746.0">6@</tspan><tspan x="755.5" y="1754.1">Y.</tspan><tspan x="755.5" y="1762.2">list.</tspan><tspan x="755.5" y="1770.2">dnswl.</tspan><tspan x="755.5" y="1778.3">org</tspan><tspan x="755.5" y="1786.4">4 hops</tspan></text>
<text><tspan x="778.9" y="1746.0">11@</tspan><tspan x="778.9" y="1754.1">1.</tspan><tspan x="778.9" y="1762.2">list.</tspan><tspan x="778.9" y="1770.2">dnswl.</tspan><tspan x="778.9" y="1778.3">org</tspan><tspan x="778.9" y="1786.4">2 hops</tspan></text>
<text><tspan x="802.2" y="1746.0">11@</tspan><tspan x="802.2" y="1754.1">0.</tspan><tspan x="802.2" y="1762.2">list.</tspan><tspan x="802.2" y="1770.2">dnswl.</tspan><tspan x="802.2" y="1778.3">org</tspan><tspan x="802.2" y="1786.4">1 hop</tspan></text>
<text><tspan x="825.6" y="1746.0">5@</tspan><tspan x="825.6" y="1754.1">Y.</tspan><tspan x="825.6" y="1762.2">list.</tspan><tspan x="825.6" y="1770.2">dnswl.</tspan><tspan x="825.6" y="1778.3">org</tspan><tspan x="825.6" y="1786.4">5 hops</tspan></text>
<text><tspan x="848.9" y="1746.0">2@</tspan><tspan x="848.9" y="1754.1">dnsbl-3.</tspan><tspan x="848.9" y="1762.2">uceprotect.</tspan><tspan x="848.9" y="1770.2">net</tspan><tspan x="848.9" y="1778.3">2 hops</tspan></text>
<text><tspan x="872.3" y="1746.0">3@</tspan><tspan x="872.3" y="1754.1">zen.</tspan><tspan x="872.3" y="1762.2">spamhaus.</tspan><tspan x="872.3" y="1770.2">org</tspan><tspan x="872.3" y="1778.3">3 hops</tspan></text>
<text><tspan x="895.6" y="1746.0">11@</tspan><tspan x="895.6" y="1754.1">zen.</tspan><tspan x="895.6" y="1762.2">spamhaus.</tspan><tspan x="895.6" y="1770.2">org</tspan><tspan x="895.6" y="1778.3">1 hop</tspan></text>
<text><tspan x="919.0" y="1746.0">11@</tspan><tspan x="919.0" y="1754.1">0.</tspan><tspan x="919.0" y="1762.2">list.</tspan><tspan x="919.0" y="1770.2">dnswl.</tspan><tspan x="919.0" y="1778.3">org</tspan><tspan x="919.0" y="1786.4">2 hops</tspan></text>
<text><tspan x="942.3" y="1746.0">3@</tspan><tspan x="942.3" y="1754.1">1.</tspan><tspan x="942.3" y="1762.2">list.</tspan><tspan x="942.3" y="1770.2">dnswl.</tspan><tspan x="942.3" y="1778.3">org</tspan><tspan x="942.3" y="1786.4">4 hops</tspan></text>
<text><tspan x="965.7" y="1746.0">2@</tspan><tspan x="965.7" y="1754.1">dnsbl-2.</tspan><tspan x="965.7" y="1762.2">uceprotect.</tspan><tspan x="965.7" y="1770.2">net</tspan><tspan x="965.7" y="1778.3">3 hops</tspan></text>
<text><tspan x="989.0" y="1746.0">11@</tspan><tspan x="989.0" y="1754.1">1.</tspan><tspan x="989.0" y="1762.2">list.</tspan><tspan x="989.0" y="1770.2">dnswl.</tspan><tspan x="989.0" y="1778.3">org</tspan><tspan x="989.0" y="1786.4">1 hop</tspan></text>
<text><tspan x="1012.4" y="1746.0">2@</tspan><tspan x="1012.4" y="1754.1">psbl.</tspan><tspan x="1012.4" y="1762.2">surriel.</tspan><tspan x="1012.4" y="1770.2">com</tspan><tspan x="1012.4" y="1778.3">2 hops</tspan></text>
<text><tspan x="1035.7" y="1746.0">2@</tspan><tspan x="1035.7" y="1754.1">dnsbl-3.</tspan><tspan x="1035.7" y="1762.2">uceprotect.</tspan><tspan x="1035.7" y="1770.2">net</tspan><tspan x="1035.7" y="1778.3">1 hop</tspan></text>
<text><tspan x="1059.1" y="1746.0">2@</tspan><tspan x="1059.1" y="1754.1">dnsbl-3.</tspan><tspan x="1059.1" y="1762.2">uceprotect.</tspan><tspan x="1059.1" y="1770.2">net</tspan><tspan x="1059.1" y="1778.3">3 hops</tspan></text>
<text><tspan x="1082.4" y="1746.0">2@</tspan><tspan x="1082.4" y="1754.1">dnsbl-2.</tspan><tspan x="1082.4" y="1762.2">uceprotect.</tspan><tspan x="1082.4" y="1770.2">net</tspan><tspan x="1082.4" y="1778.3">4 hops</tspan></text>
<text><tspan x="1105.8" y="1746.0">2@</tspan><tspan x="1105.8" y="1754.1">ips.</tspan><tspan x="1105.8" y="1762.2">backscatterer.</tspan><tspan x="1105.8" y="1770.2">org</tspan><tspan x="1105.8" y="1778.3">1 hop</tspan></text>
<text><tspan x="1129.1" y="1746.0">11@</tspan><tspan x="1129.1" y="1754.1">Y.</tspan><tspan x="1129.1" y="1762.2">list.</tspan><tspan x="1129.1" y="1770.2">dnswl.</tspan><tspan x="1129.1" y="1778.3">org</tspan><tspan x="1129.1" y="1786.4">1 hop</tspan></text>
<text><tspan x="1152.5" y="1746.0">2@</tspan><tspan x="1152.5" y="1754.1">dnsbl-3.</tspan><tspan x="1152.5" y="1762.2">uceprotect.</tspan><tspan x="1152.5" y="1770.2">net</tspan><tspan x="1152.5" y="1778.3">4 hops</tspan></text>
<text><tspan x="1175.8" y="1746.0">11@</tspan><tspan x="1175.8" y="1754.1">2.</tspan><tspan x="1175.8" y="1762.2">list.</tspan><tspan x="1175.8" y="1770.2">dnswl.</tspan><tspan x="1175.8" y="1778.3">org</tspan><tspan x="1175.8" y="1786.4">1 hop</tspan></text>
<text><tspan x="1199.2" y="1746.0">3@</tspan><tspan x="1199.2" y="1754.1">Y.</tspan><tspan x="1199.2" y="1762.2">list.</tspan><tspan x="1199.2" y="1770.2">dnswl.</tspan><tspan x="1199.2" y="1778.3">org</tspan><tspan x="1199.2" y="1786.4">5 hops</tspan></text>
<text><tspan x="1222.5" y="1746.0">11@</tspan><tspan x="1222.5" y="1754.1">zen.</tspan><tspan x="1222.5" y="1762.2">spamhaus.</tspan><tspan x="1222.5" y="1770.2">org</tspan><tspan x="1222.5" y="1778.3">2 hops</tspan></text>
<text><tspan x="1245.9" y="1746.0">4@</tspan><tspan x="1245.9" y="1754.1">3.</tspan><tspan x="1245.9" y="1762.2">list.</tspan><tspan x="1245.9" y="1770.2">dnswl.</tspan><tspan x="1245.9" y="1778.3">org</tspan><tspan x="1245.9" y="1786.4">1 hop</tspan></text>
<text><tspan x="1269.2" y="1746.0">2@</tspan><tspan x="1269.2" y="1754.1">ips.</tspan><tspan x="1269.2" y="1762.2">whitelisted.</tspan><tspan x="1269.2" y="1770.2">org</tspan><tspan x="1269.2" y="1778.3">1 hop</tspan></text>
<text><tspan x="1292.6" y="1746.0">3@</tspan><tspan x="1292.6" y="1754.1">0.</tspan><tspan x="1292.6" y="1762.2">list.</tspan><tspan x="1292.6" y="1770.2">dnswl.</tspan><tspan x="1292.6" y="1778.3">org</tspan><tspan x="1292.6" y="1786.4">1 hop</tspan></text>
<text><tspan x="1315.9" y="1746.0">4@</tspan><tspan x="1315.9" y="1754.1">Y.</tspan><tspan x="1315.9" y="1762.2">list.</tspan><tspan x="1315.9" y="1770.2">dnswl.</tspan><tspan x="1315.9" y="1778.3">org</tspan><tspan x="1315.9" y="1786.4">1 hop</tspan></text>
<text><tspan x="1339.3" y="1746.0">none</tspan><tspan x="1339.3" y="1754.1">1 hop</tspan></text>
<text><tspan x="1362.6" y="1746.0">4@</tspan><tspan x="1362.6" y="1754.1">2.</tspan><tspan x="1362.6" y="1762.2">list.</tspan><tspan x="1362.6" y="1770.2">dnswl.</tspan><tspan x="1362.6" y="1778.3">org</tspan><tspan x="1362.6" y="1786.4">1 hop</tspan></text>
<text><tspan x="1386.0" y="1746.0">10@</tspan><tspan x="1386.0" y="1754.1">zen.</tspan><tspan x="1386.0" y="1762.2">spamhaus.</tspan><tspan x="1386.0" y="1770.2">org</tspan><tspan x="1386.0" y="1778.3">1 hop</tspan></text>
<text><tspan x="1409.3" y="1746.0">2@</tspan><tspan x="1409.3" y="1754.1">psbl.</tspan><tspan x="1409.3" y="1762.2">surriel.</tspan><tspan x="1409.3" y="1770.2">com</tspan><tspan x="1409.3" y="1778.3">4 hops</tspan></text>
<text><tspan x="1432.7" y="1746.0">10@</tspan><tspan x="1432.7" y="1754.1">0.</tspan><tspan x="1432.7" y="1762.2">list.</tspan><tspan x="1432.7" y="1770.2">dnswl.</tspan><tspan x="1432.7" y="1778.3">org</tspan><tspan x="1432.7" y="1786.4">1 hop</tspan></text>
<text><tspan x="1456.0" y="1746.0">10@</tspan><tspan x="1456.0" y="1754.1">Y.</tspan><tspan x="1456.0" y="1762.2">list.</tspan><tspan x="1456.0" y="1770.2">dnswl.</tspan><tspan x="1456.0" y="1778.3">org</tspan><tspan x="1456.0" y="1786.4">1 hop</tspan></text>
<text><tspan x="1479.4" y="1746.0">5@</tspan><tspan x="1479.4" y="1754.1">0.</tspan><tspan x="1479.4" y="1762.2">list.</tspan><tspan x="1479.4" y="1770.2">dnswl.</tspan><tspan x="1479.4" y="1778.3">org</tspan><tspan x="1479.4" y="1786.4">4 hops</tspan></text>
<text><tspan x="1502.7" y="1746.0">2@</tspan><tspan x="1502.7" y="1754.1">list.</tspan><tspan x="1502.7" y="1762.2">dnswl.</tspan><tspan x="1502.7" y="1770.2">org</tspan><tspan x="1502.7" y="1778.3">4 hops</tspan></text>
<text><tspan x="1526.1" y="1746.0">2@</tspan><tspan x="1526.1" y="1754.1">ips.</tspan><tspan x="1526.1" y="1762.2">whitelisted.</tspan><tspan x="1526.1" y="1770.2">org</tspan><tspan x="1526.1" y="1778.3">4 hops</tspan></text>
<text><tspan x="1549.4" y="1746.0">11@</tspan><tspan x="1549.4" y="1754.1">Y.</tspan><tspan x="1549.4" y="1762.2">list.</tspan><tspan x="1549.4" y="1770.2">dnswl.</tspan><tspan x="1549.4" y="1778.3">org</tspan><tspan x="1549.4" y="1786.4">2 hops</tspan></text>
<text><tspan x="1572.8" y="1746.0">3@</tspan><tspan x="1572.8" y="1754.1">Y.</tspan><tspan x="1572.8" y="1762.2">list.</tspan><tspan x="1572.8" y="1770.2">dnswl.</tspan><tspan x="1572.8" y="1778.3">org</tspan><tspan x="1572.8" y="1786.4">1 hop</tspan></text>
<text><tspan x="1596.1" y="1746.0">5@</tspan><tspan x="1596.1" y="1754.1">Y.</tspan><tspan x="1596.1" y="1762.2">list.</tspan><tspan x="1596.1" y="1770.2">dnswl.</tspan><tspan x="1596.1" y="1778.3">org</tspan><tspan x="1596.1" y="1786.4">4 hops</tspan></text>
<text><tspan x="1619.5" y="1746.0">1@</tspan><tspan x="1619.5" y="1754.1">list.</tspan><tspan x="1619.5" y="1762.2">dnswl.</tspan><tspan x="1619.5" y="1770.2">org</tspan><tspan x="1619.5" y="1778.3">4 hops</tspan></text>
<text><tspan x="1642.9" y="1746.0">3@</tspan><tspan x="1642.9" y="1754.1">1.</tspan><tspan x="1642.9" y="1762.2">list.</tspan><tspan x="1642.9" y="1770.2">dnswl.</tspan><tspan x="1642.9" y="1778.3">org</tspan><tspan x="1642.9" y="1786.4">3 hops</tspan></text>
<text><tspan x="1666.2" y="1746.0">none</tspan><tspan x="1666.2" y="1754.1">4 hops</tspan></text>
<text><tspan x="1689.6" y="1746.0">0@</tspan><tspan x="1689.6" y="1754.1">list.</tspan><tspan x="1689.6" y="1762.2">dnswl.</tspan><tspan x="1689.6" y="1770.2">org</tspan><tspan x="1689.6" y="1778.3">1 hop</tspan></text>
<text><tspan x="1712.9" y="1746.0">5@</tspan><tspan x="1712.9" y="1754.1">1.</tspan><tspan x="1712.9" y="1762.2">list.</tspan><tspan x="1712.9" y="1770.2">dnswl.</tspan><tspan x="1712.9" y="1778.3">org</tspan><tspan x="1712.9" y="1786.4">1 hop</tspan></text>
<text><tspan x="1736.3" y="1746.0">10@</tspan><tspan x="1736.3" y="1754.1">zen.</tspan><tspan x="1736.3" y="1762.2">spamhaus.</tspan><tspan x="1736.3" y="1770.2">org</tspan><tspan x="1736.3" y="1778.3">2 hops</tspan></text>
<text><tspan x="1759.6" y="1746.0">11@</tspan><tspan x="1759.6" y="1754.1">zen.</tspan><tspan x="1759.6" y="1762.2">spamhaus.</tspan><tspan x="1759.6" y="1770.2">org</tspan><tspan x="1759.6" y="1778.3">3 hops</tspan></text>
<text><tspan x="1783.0" y="1746.0">9@</tspan><tspan x="1783.0" y="1754.1">2.</tspan><tspan x="1783.0" y="1762.2">list.</tspan><tspan x="1783.0" y="1770.2">dnswl.</tspan><tspan x="1783.0" y="1778.3">org</tspan><tspan x="1783.0" y="1786.4">4 hops</tspan></text>
<text><tspan x="1806.3" y="1746.0">2@</tspan><tspan x="1806.3" y="1754.1">ips.</tspan><tspan x="1806.3" y="1762.2">backscatterer.</tspan><tspan x="1806.3" y="1770.2">org</tspan><tspan x="1806.3" y="1778.3">2 hops</tspan></text>
<text><tspan x="1829.7" y="1746.0">11@</tspan><tspan x="1829.7" y="1754.1">2.</tspan><tspan x="1829.7" y="1762.2">list.</tspan><tspan x="1829.7" y="1770.2">dnswl.</tspan><tspan x="1829.7" y="1778.3">org</tspan><tspan x="1829.7" y="1786.4">2 hops</tspan></text>
<text><tspan x="1853.0" y="1746.0">2@</tspan><tspan x="1853.0" y="1754.1">ips.</tspan><tspan x="1853.0" y="1762.2">whitelisted.</tspan><tspan x="1853.0" y="1770.2">org</tspan><tspan x="1853.0" y="1778.3">2 hops</tspan></text>
<text><tspan x="1876.4" y="1746.0">5@</tspan><tspan x="1876.4" y="1754.1">Y.</tspan><tspan x="1876.4" y="1762.2">list.</tspan><tspan x="1876.4" y="1770.2">dnswl.</tspan><tspan x="1876.4" y="1778.3">org</tspan><tspan x="1876.4" y="1786.4">1 hop</tspan></text>
<text><tspan x="1899.7" y="1746.0">none</tspan><tspan x="1899.7" y="1754.1">3 hops</tspan></text>
<text><tspan x="1923.1" y="1746.0">5@</tspan><tspan x="1923.1" y="1754.1">1.</tspan><tspan x="1923.1" y="1762.2">list.</tspan><tspan x="1923.1" y="1770.2">dnswl.</tspan><tspan x="1923.1" y="1778.3">org</tspan><tspan x="1923.1" y="1786.4">4 hops</tspan></text>
<text><tspan x="1946.4" y="1746.0">3@</tspan><tspan x="1946.4" y="1754.1">1.</tspan><tspan x="1946.4" y="1762.2">list.</tspan><tspan x="1946.4" y="1770.2">dnswl.</tspan><tspan x="1946.4" y="1778.3">org</tspan><tspan x="1946.4" y="1786.4">1 hop</tspan></text>
<text><tspan x="1969.8" y="1746.0">9@</tspan><tspan x="1969.8" y="1754.1">Y.</tspan><tspan x="1969.8" y="1762.2">list.</tspan><tspan x="1969.8" y="1770.2">dnswl.</tspan><tspan x="1969.8" y="1778.3">org</tspan><tspan x="1969.8" y="1786.4">4 hops</tspan></text>
<text><tspan x="1993.1" y="1746.0">3@</tspan><tspan x="1993.1" y="1754.1">list.</tspan><tspan x="1993.1" y="1762.2">dnswl.</tspan><tspan x="1993.1" y="1770.2">org</tspan><tspan x="1993.1" y="1778.3">1 hop</tspan></text>
<text><tspan x="2016.5" y="1746.0">1@</tspan><tspan x="2016.5" y="1754.1">list.</tspan><tspan x="2016.5" y="1762.2">dnswl.</tspan><tspan x="2016.5" y="1770.2">org</tspan><tspan x="2016.5" y="1778.3">1 hop</tspan></text>
<text><tspan x="2039.8" y="1746.0">5@</tspan><tspan x="2039.8" y="1754.1">0.</tspan><tspan x="2039.8" y="1762.2">list.</tspan><tspan x="2039.8" y="1770.2">dnswl.</tspan><tspan x="2039.8" y="1778.3">org</tspan><tspan x="2039.8" y="1786.4">1 hop</tspan></text>
<text><tspan x="2063.2" y="1746.0">14@</tspan><tspan x="2063.2" y="1754.1">2.</tspan><tspan x="2063.2" y="1762.2">list.</tspan><tspan x="2063.2" y="1770.2">dnswl.</tspan><tspan x="2063.2" y="1778.3">org</tspan><tspan x="2063.2" y="1786.4">1 hop</tspan></text>
<text><tspan x="2086.5" y="1746.0">none</tspan><tspan x="2086.5" y="1754.1">2 hops</tspan></text>
<text><tspan x="2109.9" y="1746.0">5@</tspan><tspan x="2109.9" y="1754.1">1.</tspan><tspan x="2109.9" y="1762.2">list.</tspan><tspan x="2109.9" y="1770.2">dnswl.</tspan><tspan x="2109.9" y="1778.3">org</tspan><tspan x="2109.9" y="1786.4">3 hops</tspan></text>
<text><tspan x="2133.2" y="1746.0">11@</tspan><tspan x="2133.2" y="1754.1">zen.</tspan><tspan x="2133.2" y="1762.2">spamhaus.</tspan><tspan x="2133.2" y="1770.2">org</tspan><tspan x="2133.2" y="1778.3">4 hops</tspan></text>
<text><tspan x="2156.6" y="1746.0">14@</tspan><tspan x="2156.6" y="1754.1">Y.</tspan><tspan x="2156.6" y="1762.2">list.</tspan><tspan x="2156.6" y="1770.2">dnswl.</tspan><tspan x="2156.6" y="1778.3">org</tspan><tspan x="2156.6" y="1786.4">1 hop</tspan></text>
<text><tspan x="2179.9" y="1746.0">5@</tspan><tspan x="2179.9" y="1754.1">1.</tspan><tspan x="2179.9" y="1762.2">list.</tspan><tspan x="2179.9" y="1770.2">dnswl.</tspan><tspan x="2179.9" y="1778.3">org</tspan><tspan x="2179.9" y="1786.4">2 hops</tspan></text>
<text><tspan x="2203.3" y="1746.0">11@</tspan><tspan x="2203.3" y="1754.1">zen.</tspan><tspan x="2203.3" y="1762.2">spamhaus.</tspan><tspan x="2203.3" y="1770.2">org</tspan><tspan x="2203.3" y="1778.3">6 hops</tspan></text>
<text><tspan x="2226.6" y="1746.0">1@</tspan><tspan x="2226.6" y="1754.1">list.</tspan><tspan x="2226.6" y="1762.2">dnswl.</tspan><tspan x="2226.6" y="1770.2">org</tspan><tspan x="2226.6" y="1778.3">3 hops</tspan></text>
<text><tspan x="2250.0" y="1746.0">15@</tspan><tspan x="2250.0" y="1754.1">0.</tspan><tspan x="2250.0" y="1762.2">list.</tspan><tspan x="2250.0" y="1770.2">dnswl.</tspan><tspan x="2250.0" y="1778.3">org</tspan><tspan x="2250.0" y="1786.4">2 hops</tspan></text>
<text><tspan x="2273.3" y="1746.0">11@</tspan><tspan x="2273.3" y="1754.1">Y.</tspan><tspan x="2273.3" y="1762.2">list.</tspan><tspan x="2273.3" y="1770.2">dnswl.</tspan><tspan x="2273.3" y="1778.3">org</tspan><tspan x="2273.3" y="1786.4">3 hops</tspan></text>
<text><tspan x="2296.7" y="1746.0">10@</tspan><tspan x="2296.7" y="1754.1">zen.</tspan><tspan x="2296.7" y="1762.2">spamhaus.</tspan><tspan x="2296.7" y="1770.2">org</tspan><tspan x="2296.7" y="1778.3">3 hops</tspan></text>
<text><tspan x="2320.0" y="1746.0">15@</tspan><tspan x="2320.0" y="1754.1">Y.</tspan><tspan x="2320.0" y="1762.2">list.</tspan><tspan x="2320.0" y="1770.2">dnswl.</tspan><tspan x="2320.0" y="1778.3">org</tspan><tspan x="2320.0" y="1786.4">2 hops</tspan></text>
<text><tspan x="2343.4" y="1746.0">9@</tspan><tspan x="2343.4" y="1754.1">1.</tspan><tspan x="2343.4" y="1762.2">list.</tspan><tspan x="2343.4" y="1770.2">dnswl.</tspan><tspan x="2343.4" y="1778.3">org</tspan><tspan x="2343.4" y="1786.4">2 hops</tspan></text>
<text><tspan x="2366.7" y="1746.0">11@</tspan><tspan x="2366.7" y="1754.1">zen.</tspan><tspan x="2366.7" y="1762.2">spamhaus.</tspan><tspan x="2366.7" y="1770.2">org</tspan><tspan x="2366.7" y="1778.3">5 hops</tspan></text>
<text><tspan x="2390.1" y="1746.0">5@</tspan><tspan x="2390.1" y="1754.1">2.</tspan><tspan x="2390.1" y="1762.2">list.</tspan><tspan x="2390.1" y="1770.2">dnswl.</tspan><tspan x="2390.1" y="1778.3">org</tspan><tspan x="2390.1" y="1786.4">2 hops</tspan></text>
<text><tspan x="2413.4" y="1746.0">1@</tspan><tspan x="2413.4" y="1754.1">list.</tspan><tspan x="2413.4" y="1762.2">dnswl.</tspan><tspan x="2413.4" y="1770.2">org</tspan><tspan x="2413.4" y="1778.3">2 hops</tspan></text>
<text><tspan x="2436.8" y="1746.0">13@</tspan><tspan x="2436.8" y="1754.1">Y.</tspan><tspan x="2436.8" y="1762.2">list.</tspan><tspan x="2436.8" y="1770.2">dnswl.</tspan><tspan x="2436.8" y="1778.3">org</tspan><tspan x="2436.8" y="1786.4">1 hop</tspan></text>
<text><tspan x="2460.1" y="1746.0">5@</tspan><tspan x="2460.1" y="1754.1">Y.</tspan><tspan x="2460.1" y="1762.2">list.</tspan><tspan x="2460.1" y="1770.2">dnswl.</tspan><tspan x="2460.1" y="1778.3">org</tspan><tspan x="2460.1" y="1786.4">2 hops</tspan></text>
<text><tspan x="2483.5" y="1746.0">3@</tspan><tspan x="2483.5" y="1754.1">Y.</tspan><tspan x="2483.5" y="1762.2">list.</tspan><tspan x="2483.5" y="1770.2">dnswl.</tspan><tspan x="2483.5" y="1778.3">org</tspan><tspan x="2483.5" y="1786.4">3 hops</tspan></text>
<text><tspan x="2506.8" y="1746.0">6@</tspan><tspan x="2506.8" y="1754.1">2.</tspan><tspan x="2506.8" y="1762.2">list.</tspan><tspan x="2506.8" y="1770.2">dnswl.</tspan><tspan x="2506.8" y="1778.3">org</tspan><tspan x="2506.8" y="1786.4">1 hop</tspan></text>
<text><tspan x="2530.2" y="1746.0">0@</tspan><tspan x="2530.2" y="1754.1">list.</tspan><tspan x="2530.2" y="1762.2">dnswl.</tspan><tspan x="2530.2" y="1770.2">org</tspan><tspan x="2530.2" y="1778.3">2 hops</tspan></text>
<text><tspan x="2553.5" y="1746.0">10@</tspan><tspan x="2553.5" y="1754.1">zen.</tspan><tspan x="2553.5" y="1762.2">spamhaus.</tspan><tspan x="2553.5" y="1770.2">org</tspan><tspan x="2553.5" y="1778.3">4 hops</tspan></text>
<text><tspan x="2576.9" y="1746.0">5@</tspan><tspan x="2576.9" y="1754.1">0.</tspan><tspan x="2576.9" y="1762.2">list.</tspan><tspan x="2576.9" y="1770.2">dnswl.</tspan><tspan x="2576.9" y="1778.3">org</tspan><tspan x="2576.9" y="1786.4">2 hops</tspan></text>
<text><tspan x="2600.2" y="1746.0">3@</tspan><tspan x="2600.2" y="1754.1">0.</tspan><tspan x="2600.2" y="1762.2">list.</tspan><tspan x="2600.2" y="1770.2">dnswl.</tspan><tspan x="2600.2" y="1778.3">org</tspan><tspan x="2600.2" y="1786.4">2 hops</tspan></text>
<text><tspan x="2623.6" y="1746.0">3@</tspan><tspan x="2623.6" y="1754.1">2.</tspan><tspan x="2623.6" y="1762.2">list.</tspan><tspan x="2623.6" y="1770.2">dnswl.</tspan><tspan x="2623.6" y="1778.3">org</tspan><tspan x="2623.6" y="1786.4">1 hop</tspan></text>
<text><tspan x="2646.9" y="1746.0">6@</tspan><tspan x="2646.9" y="1754.1">Y.</tspan><tspan x="2646.9" y="1762.2">list.</tspan><tspan x="2646.9" y="1770.2">dnswl.</tspan><tspan x="2646.9" y="1778.3">org</tspan><tspan x="2646.9" y="1786.4">1 hop</tspan></text>
<text><tspan x="2670.3" y="1746.0">3@</tspan><tspan x="2670.3" y="1754.1">0.</tspan><tspan x="2670.3" y="1762.2">list.</tspan><tspan x="2670.3" y="1770.2">dnswl.</tspan><tspan x="2670.3" y="1778.3">org</tspan><tspan x="2670.3" y="1786.4">3 hops</tspan></text>
<text><tspan x="2693.6" y="1746.0">3@</tspan><tspan x="2693.6" y="1754.1">Y.</tspan><tspan x="2693.6" y="1762.2">list.</tspan><tspan x="2693.6" y="1770.2">dnswl.</tspan><tspan x="2693.6" y="1778.3">org</tspan><tspan x="2693.6" y="1786.4">2 hops</tspan></text>
<text><tspan x="2717.0" y="1746.0">14@</tspan><tspan x="2717.0" y="1754.1">2.</tspan><tspan x="2717.0" y="1762.2">list.</tspan><tspan x="2717.0" y="1770.2">dnswl.</tspan><tspan x="2717.0" y="1778.3">org</tspan><tspan x="2717.0" y="1786.4">2 hops</tspan></text>
<text><tspan x="2740.3" y="1746.0">2@</tspan><tspan x="2740.3" y="1754.1">list.</tspan><tspan x="2740.3" y="1762.2">dnswl.</tspan><tspan x="2740.3" y="1770.2">org</tspan><tspan x="2740.3" y="1778.3">1 hop</tspan></text>
<text><tspan x="2763.7" y="1746.0">2@</tspan><tspan x="2763.7" y="1754.1">ips.</tspan><tspan x="2763.7" y="1762.2">whitelisted.</tspan><tspan x="2763.7" y="1770.2">org</tspan><tspan x="2763.7" y="1778.3">3 hops</tspan></text>
<text><tspan x="2787.0" y="1746.0">0@</tspan><tspan x="2787.0" y="1754.1">list.</tspan><tspan x="2787.0" y="1762.2">dnswl.</tspan><tspan x="2787.0" y="1770.2">org</tspan><tspan x="2787.0" y="1778.3">4 hops</tspan></text>
<text><tspan x="2810.4" y="1746.0">14@</tspan><tspan x="2810.4" y="1754.1">Y.</tspan><tspan x="2810.4" y="1762.2">list.</tspan><tspan x="2810.4" y="1770.2">dnswl.</tspan><tspan x="2810.4" y="1778.3">org</tspan><tspan x="2810.4" y="1786.4">2 hops</tspan></text>
<text><tspan x="2833.7" y="1746.0">9@</tspan><tspan x="2833.7" y="1754.1">3.</tspan><tspan x="2833.7" y="1762.2">list.</tspan><tspan x="2833.7" y="1770.2">dnswl.</tspan><tspan x="2833.7" y="1778.3">org</tspan><tspan x="2833.7" y="1786.4">1 hop</tspan></text>
<text><tspan x="2857.1" y="1746.0">9@</tspan><tspan x="2857.1" y="1754.1">2.</tspan><tspan x="2857.1" y="1762.2">list.</tspan><tspan x="2857.1" y="1770.2">dnswl.</tspan><tspan x="2857.1" y="1778.3">org</tspan><tspan x="2857.1" y="1786.4">1 hop</tspan></text>
<text><tspan x="2880.4" y="1746.0">9@</tspan><tspan x="2880.4" y="1754.1">Y.</tspan><tspan x="2880.4" y="1762.2">list.</tspan><tspan x="2880.4" y="1770.2">dnswl.</tspan><tspan x="2880.4" y="1778.3">org</tspan><tspan x="2880.4" y="1786.4">1 hop</tspan></text>
<text><tspan x="2903.8" y="1746.0">5@</tspan><tspan x="2903.8" y="1754.1">Y.</tspan><tspan x="2903.8" y="1762.2">list.</tspan><tspan x="2903.8" y="1770.2">dnswl.</tspan><tspan x="2903.8" y="1778.3">org</tspan><tspan x="2903.8" y="1786.4">3 hops</tspan></text>
<text><tspan x="2927.1" y="1746.0">0@</tspan><tspan x="2927.1" y="1754.1">list.</tspan><tspan x="2927.1" y="1762.2">dnswl.</tspan><tspan x="2927.1" y="1770.2">org</tspan><tspan x="2927.1" y="1778.3">3 hops</tspan></text>
<text><tspan x="2950.5" y="1746.0">2@</tspan><tspan x="2950.5" y="1754.1">psbl.</tspan><tspan x="2950.5" y="1762.2">surriel.</tspan><tspan x="2950.5" y="1770.2">com</tspan><tspan x="2950.5" y="1778.3">3 hops</tspan></text>
<text><tspan x="2973.8" y="1746.0">6@</tspan><tspan x="2973.8" y="1754.1">2.</tspan><tspan x="2973.8" y="1762.2">list.</tspan><tspan x="2973.8" y="1770.2">dnswl.</tspan><tspan x="2973.8" y="1778.3">org</tspan><tspan x="2973.8" y="1786.4">2 hops</tspan></text>
<text><tspan x="2997.2" y="1746.0">6@</tspan><tspan x="2997.2" y="1754.1">Y.</tspan><tspan x="2997.2" y="1762.2">list.</tspan><tspan x="2997.2" y="1770.2">dnswl.</tspan><tspan x="2997.2" y="1778.3">org</tspan><tspan x="2997.2" y="1786.4">2 hops</tspan></text>
<text><tspan x="3020.5" y="1746.0">5@</tspan><tspan x="3020.5" y="1754.1">0.</tspan><tspan x="3020.5" y="1762.2">list.</tspan><tspan x="3020.5" y="1770.2">dnswl.</tspan><tspan x="3020.5" y="1778.3">org</tspan><tspan x="3020.5" y="1786.4">3 hops</tspan></text>
<text><tspan x="3043.9" y="1746.0">3@</tspan><tspan x="3043.9" y="1754.1">1.</tspan><tspan x="3043.9" y="1762.2">list.</tspan><tspan x="3043.9" y="1770.2">dnswl.</tspan><tspan x="3043.9" y="1778.3">org</tspan><tspan x="3043.9" y="1786.4">2 hops</tspan></text>
<text><tspan x="3067.2" y="1746.0">9@</tspan><tspan x="3067.2" y="1754.1">0.</tspan><tspan x="3067.2" y="1762.2">list.</tspan><tspan x="3067.2" y="1770.2">dnswl.</tspan><tspan x="3067.2" y="1778.3">org</tspan><tspan x="3067.2" y="1786.4">1 hop</tspan></text>
<text><tspan x="3090.6" y="1746.0">2@</tspan><tspan x="3090.6" y="1754.1">ips.</tspan><tspan x="3090.6" y="1762.2">backscatterer.</tspan><tspan x="3090.6" y="1770.2">org</tspan><tspan x="3090.6" y="1778.3">3 hops</tspan></text>
<text><tspan x="3113.9" y="1746.0">2@</tspan><tspan x="3113.9" y="1754.1">list.</tspan><tspan x="3113.9" y="1762.2">dnswl.</tspan><tspan x="3113.9" y="1770.2">org</tspan><tspan x="3113.9" y="1778.3">2 hops</tspan></text>
<text><tspan x="3137.3" y="1746.0">3@</tspan><tspan x="3137.3" y="1754.1">Y.</tspan><tspan x="3137.3" y="1762.2">list.</tspan><tspan x="3137.3" y="1770.2">dnswl.</tspan><tspan x="3137.3" y="1778.3">org</tspan><tspan x="3137.3" y="1786.4">4 hops</tspan></text>
<text><tspan x="3160.6" y="1746.0">3@</tspan><tspan x="3160.6" y="1754.1">2.</tspan><tspan x="3160.6" y="1762.2">list.</tspan><tspan x="3160.6" y="1770.2">dnswl.</tspan><tspan x="3160.6" y="1778.3">org</tspan><tspan x="3160.6" y="1786.4">2 hops</tspan></text>
</g></g>
</svg></body></html>
